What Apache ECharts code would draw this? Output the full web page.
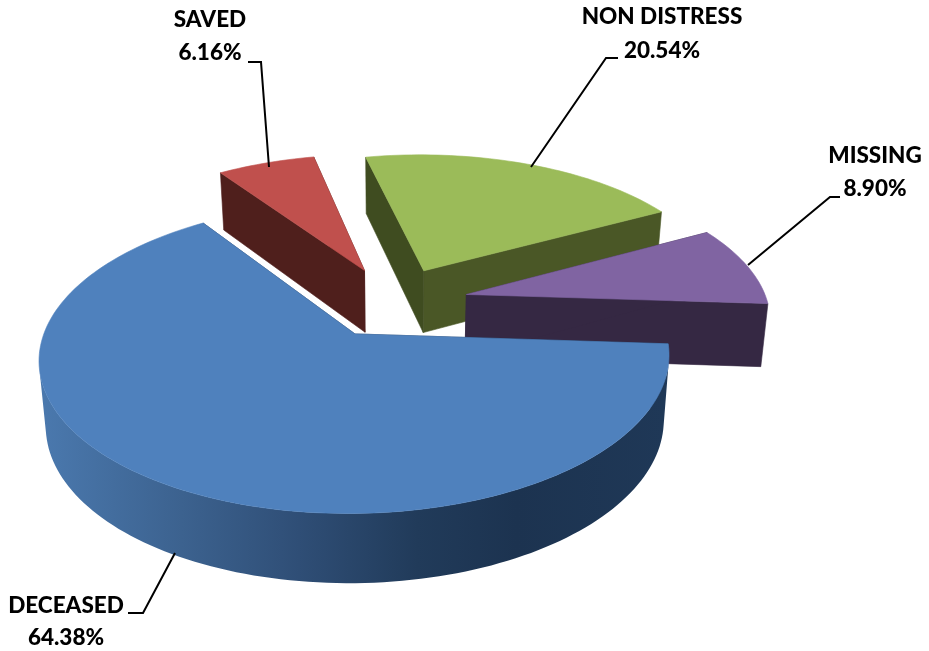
<!DOCTYPE html>
<html>
<head>
<meta charset="utf-8">
<style>html,body{margin:0;padding:0;background:#fff}#c{width:929px;height:651px}</style>
<script src="https://cdn.jsdelivr.net/npm/echarts@6/dist/echarts.min.js"></script>
</head>
<body>
<div id="c"></div>
<script>
const categories = ['DECEASED', 'SAVED', 'NON DISTRESS', 'MISSING'];
const percentages = [64.38, 6.16, 20.54, 8.90];

// projection of the tilted pie plane
const X0 = 393.4, Y0 = 302, A = 301, B = 142, K = 0.15, BASE_X = 0.981, EXPLODE = 0.25;
const START_DEG = -3.7;
const rad = d => d * Math.PI / 180;
const project = (u, v, bottom) => {
  const w = 1 + K * v;
  let x = X0 + A * u / w, y = Y0 - B * v / w;
  if (bottom) { x = X0 + (x - X0) * BASE_X; y += 63 - 5.5 * v; }
  return [x, y];
};

const total = percentages.reduce((a, b) => a + b, 0);
const slices = [];
let cum = 0;
percentages.forEach((p) => {
  const a2 = START_DEG - 360 * cum / total;
  cum += p;
  const a1 = START_DEG - 360 * cum / total;
  const mid = (a1 + a2) / 2;
  slices.push({ a1, a2, cu: EXPLODE * Math.cos(rad(mid)), cv: EXPLODE * Math.sin(rad(mid)) });
});

const blueWall = {
  type: 'linear', global: true, x: 45, y: 0, x2: 665, y2: 0,
  colorStops: [
    { offset: 0, color: '#4a78ad' }, { offset: 0.22, color: '#3c628f' }, { offset: 0.41, color: '#2f4e76' },
    { offset: 0.6, color: '#213b5a' }, { offset: 0.76, color: '#1c3350' }, { offset: 1, color: '#1f3857' }
  ]
};
const looks = [
  { top: '#4f81bd', wall1: '#1f3857', wall2: '#1f3857', arc: blueWall },
  { top: '#c0504d', wall1: '#4f1f1c', wall2: '#4f1f1c', arc: '#4f1f1c' },
  { top: '#9bbb59', wall1: '#4a5726', wall2: '#3f4c20', arc: '#4a5726' },
  { top: '#8064a2', wall1: '#352843', wall2: '#352843', arc: '#352843' }
];
const labelBoxes = [
  { x: 66, y1: 606, y2: 638, path: [[175, 553], [143, 613], [128, 613]] },
  { x: 210, y1: 20, y2: 53, path: [[269, 167], [261, 62], [248, 62]] },
  { x: 662, y1: 17, y2: 51, path: [[531, 167], [606, 58], [618, 58]] },
  { x: 875, y1: 156, y2: 189, path: [[748, 265], [830, 197], [840, 197]] }
];

function arcPts(s, bottom) {
  const pts = [];
  const n = Math.ceil((s.a2 - s.a1) / 1.5);
  for (let i = 0; i <= n; i++) {
    const a = rad(s.a1 + (s.a2 - s.a1) * i / n);
    pts.push(project(s.cu + Math.cos(a), s.cv + Math.sin(a), bottom));
  }
  return pts;
}
// longest run of arc segments that face the viewer
function frontRun(topArc, botArc) {
  let best = null, start = -1;
  for (let k = 0; k <= topArc.length - 1; k++) {
    let front = false;
    if (k < topArc.length - 1) {
      const tx = topArc[k + 1][0] - topArc[k][0], ty = topArc[k + 1][1] - topArc[k][1];
      const sx = botArc[k][0] - topArc[k][0], sy = botArc[k][1] - topArc[k][1];
      front = tx * sy - ty * sx > 0;
    }
    if (front && start < 0) start = k;
    if (!front && start >= 0) {
      if (!best || k - start > best[1] - best[0]) best = [start, k];
      start = -1;
    }
  }
  return best;
}
const rankOf = i => (i + 3) % 4 + 1;

function renderItem(params) {
  const i = params.dataIndex, s = slices[i], look = looks[i];
  const rank = rankOf(i) * 10;
  const topArc = arcPts(s, false), botArc = arcPts(s, true);
  const ap = project(s.cu, s.cv, false), bp = project(s.cu, s.cv, true);
  const poly = (points, fill, z) => ({
    type: 'polygon', shape: { points }, z2: rank + z,
    style: { fill, stroke: typeof fill === 'string' ? fill : null, lineWidth: 0.6 }
  });
  const children = [
    poly([ap, topArc[0], botArc[0], bp], look.wall1, 0),
    poly([ap, topArc[topArc.length - 1], botArc[botArc.length - 1], bp], look.wall2, 1)
  ];
  const run = frontRun(topArc, botArc);
  if (run) {
    const t = topArc.slice(run[0], run[1] + 1), b = botArc.slice(run[0], run[1] + 1).reverse();
    children.push(poly(t.concat(b), look.arc, 2));
  }
  children.push(poly([ap].concat(topArc), look.top, 3));
  const lb = labelBoxes[i];
  const text = (t, y) => ({
    type: 'text', z2: 100,
    style: { x: lb.x, y, text: t, align: 'center', verticalAlign: 'middle', fill: '#000',
             font: '900 22.5px Lato, "Open Sans", sans-serif' }
  });
  children.push({ type: 'polyline', z2: 100, shape: { points: lb.path },
                  style: { fill: null, stroke: '#000', lineWidth: 2 } });
  children.push(text(categories[i], lb.y1));
  children.push(text(percentages[i].toFixed(2) + '%', lb.y2));
  return { type: 'group', children };
}

const chart = echarts.init(document.getElementById('c'), null, { renderer: 'canvas' });
chart.setOption({
  animation: false,
  backgroundColor: '#fff',
  series: [{
    type: 'custom',
    coordinateSystem: 'none',
    renderItem,
    silent: true,
    data: percentages.map((v, i) => ({ name: categories[i], value: v }))
  }]
});
</script>
</body>
</html>
